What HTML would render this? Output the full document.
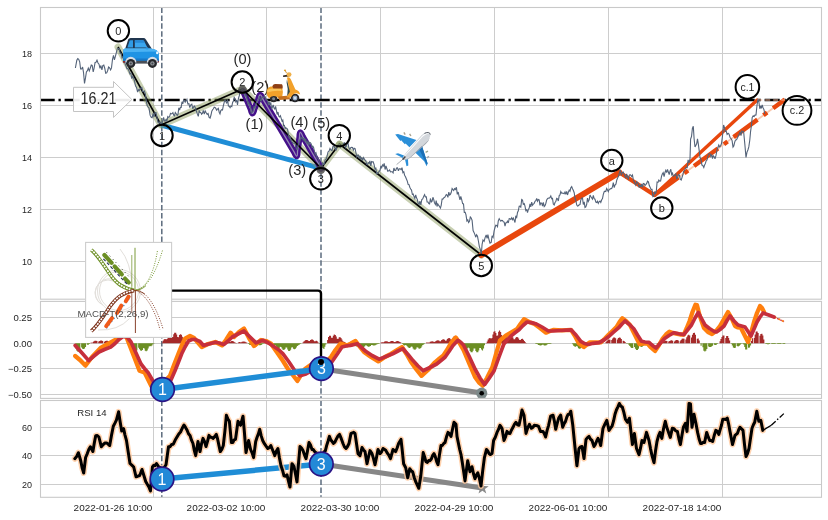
<!DOCTYPE html>
<html lang="en"><head><meta charset="utf-8"><title>Elliott wave chart</title>
<style>html,body{margin:0;padding:0;background:#fff}body{width:828px;height:520px;overflow:hidden}svg{display:block}text{font-family:"Liberation Sans","DejaVu Sans",sans-serif;fill:#262626}</style></head><body>
<svg width="828" height="520" viewBox="0 0 828 520">
<rect width="828" height="520" fill="#fff"/>
<g stroke="#cdcdcd" stroke-width="1" fill="none">
<path d="M153.5 7.5V299.2"/>
<path d="M266.5 7.5V299.2"/>
<path d="M380.5 7.5V299.2"/>
<path d="M494.5 7.5V299.2"/>
<path d="M608.5 7.5V299.2"/>
<path d="M722.5 7.5V299.2"/>
<path d="M153.5 301.4V398.4"/>
<path d="M266.5 301.4V398.4"/>
<path d="M380.5 301.4V398.4"/>
<path d="M494.5 301.4V398.4"/>
<path d="M608.5 301.4V398.4"/>
<path d="M722.5 301.4V398.4"/>
<path d="M153.5 400.5V497.3"/>
<path d="M266.5 400.5V497.3"/>
<path d="M380.5 400.5V497.3"/>
<path d="M494.5 400.5V497.3"/>
<path d="M608.5 400.5V497.3"/>
<path d="M722.5 400.5V497.3"/>
<path d="M40.5 53.5H821.5"/>
<path d="M40.5 105.5H821.5"/>
<path d="M40.5 157.5H821.5"/>
<path d="M40.5 209.5H821.5"/>
<path d="M40.5 261.5H821.5"/>
<path d="M40.5 317.5H821.5"/>
<path d="M40.5 343.5H821.5"/>
<path d="M40.5 368.5H821.5"/>
<path d="M40.5 394.5H821.5"/>
<path d="M40.5 427.5H821.5"/>
<path d="M40.5 455.5H821.5"/>
<path d="M40.5 484.5H821.5"/>
</g>
<g font-size="9" text-anchor="end">
<text x="32" y="56.7">18</text>
<text x="32" y="108.7">16</text>
<text x="32" y="160.7">14</text>
<text x="32" y="212.7">12</text>
<text x="32" y="264.7">10</text>
<text x="32" y="320.7" textLength="18.6" lengthAdjust="spacingAndGlyphs">0.25</text>
<text x="32" y="346.7" textLength="18.6" lengthAdjust="spacingAndGlyphs">0.00</text>
<text x="32" y="371.7" textLength="23.9" lengthAdjust="spacingAndGlyphs">−0.25</text>
<text x="32" y="397.7" textLength="23.9" lengthAdjust="spacingAndGlyphs">−0.50</text>
<text x="32" y="430.7">60</text>
<text x="32" y="458.7">40</text>
<text x="32" y="487.7">20</text>
<text x="152.3" y="511" textLength="78.7" lengthAdjust="spacingAndGlyphs">2022-01-26 10:00</text>
<text x="265.3" y="511" textLength="78.7" lengthAdjust="spacingAndGlyphs">2022-03-02 10:00</text>
<text x="379.3" y="511" textLength="78.7" lengthAdjust="spacingAndGlyphs">2022-03-30 10:00</text>
<text x="493.3" y="511" textLength="78.7" lengthAdjust="spacingAndGlyphs">2022-04-29 10:00</text>
<text x="607.3" y="511" textLength="78.7" lengthAdjust="spacingAndGlyphs">2022-06-01 10:00</text>
<text x="721.3" y="511" textLength="78.7" lengthAdjust="spacingAndGlyphs">2022-07-18 14:00</text>
</g>
<text x="77.2" y="415.7" font-size="9" textLength="29.4" lengthAdjust="spacingAndGlyphs">RSI 14</text>
<g stroke="#5b6b7d" stroke-width="1.5" stroke-dasharray="5.5 2.4" fill="none">
<path d="M161.8 7.5V299.2"/><path d="M321 7.5V299.2"/>
<path d="M161.8 301.4V398.4"/><path d="M321 301.4V398.4"/>
<path d="M161.8 400.5V497.3"/><path d="M321 400.5V497.3"/>
</g>
<path d="M40.5 100H821.5" stroke="#000" stroke-width="2.35" stroke-dasharray="15.1 3.77 2.36 3.77" stroke-dashoffset="0.9" fill="none"/>
<path d="M161 125L321 168.4" stroke="#1f8dd6" stroke-width="5" stroke-linecap="butt" fill="none"/>
<path d="M118.0 47.0 L161.0 125.0 L242.5 89.0 L321.0 168.4 L339.5 144.0 L481.3 255.0" fill="none" stroke="#8a9a5b" stroke-opacity="0.48" stroke-width="7" stroke-linejoin="round" stroke-linecap="round"/>
<path d="M243.3 91.5 L250.7 109.0 Q252.6 117.8 254.4 108.9 L258.3 99.3 Q259.8 90.6 262.7 98.9 L294.2 152.1 Q297.6 160.6 297.5 151.4 L299.5 137.2 Q299.4 128.0 302.7 136.5 L321.2 168.4" fill="none" stroke="#45108a" stroke-width="6.2" stroke-linejoin="round" stroke-linecap="round"/>
<path d="M243.3 91.5 L250.7 109.0 Q252.6 117.8 254.4 108.9 L258.3 99.3 Q259.8 90.6 262.7 98.9 L294.2 152.1 Q297.6 160.6 297.5 151.4 L299.5 137.2 Q299.4 128.0 302.7 136.5 L321.2 168.4" fill="none" stroke="#9488b4" stroke-width="1.3" stroke-linejoin="round" stroke-linecap="round"/>
<path d="M118.0 47.0 L161.0 125.0 L242.5 89.0 L321.0 168.4 L339.5 144.0 L481.3 255.0" fill="none" stroke="#000" stroke-width="1.6" stroke-linejoin="miter"/>
<path d="M481.3 255L619.5 172.5" stroke="#e8470d" stroke-width="6" stroke-linecap="round" fill="none"/>
<path d="M619.5 172.5L654.5 195" stroke="#e8470d" stroke-width="4.2" stroke-linecap="round" fill="none"/>
<path d="M654.5 195L757.2 100" stroke="#e8470d" stroke-width="3.4" stroke-linecap="round" fill="none"/>
<path d="M654.5 195L784.8 99.6" stroke="#f9c9b0" stroke-width="1.8" fill="none"/>
<path d="M654.5 195L784.8 99.6" stroke="#e8470d" stroke-width="4.4" stroke-dasharray="29.6 7.4 4.6 7.4" fill="none"/>
<path d="M757.2 100H784.8" stroke="#f6b89c" stroke-width="1.2" stroke-dasharray="5 3" fill="none"/>
<path d="M75.4 68.0 L76.8 60.3 L77.8 58.6 L78.7 59.3 L79.7 61.8 L80.6 69.0 L81.6 69.0 L82.6 67.0 L83.5 72.3 L84.5 83.5 L85.5 77.9 L86.4 71.9 L87.4 70.7 L88.3 68.2 L89.3 70.9 L90.3 68.0 L91.3 65.0 L92.2 65.3 L93.2 71.9 L94.1 68.2 L95.1 62.5 L96.0 62.2 L97.0 60.1 L98.0 63.0 L99.0 64.2 L100.0 68.4 L100.9 65.5 L101.9 70.0 L102.8 65.6 L103.8 65.0 L104.8 68.5 L105.7 73.3 L106.7 72.9 L107.7 70.5 L108.6 67.0 L109.6 67.8 L110.6 70.0 L111.5 67.9 L112.5 59.3 L113.5 55.3 L114.4 59.8 L115.4 56.4 L116.4 52.3 L117.3 48.7 L118.3 48.5 L119.2 48.4 L120.2 53.5 L121.1 53.4 L122.1 58.0 L123.0 57.0 L124.0 57.8 L125.0 63.6 L126.0 66.0 L127.0 68.6 L128.0 68.5 L129.0 71.0 L129.9 73.9 L130.9 73.1 L131.8 78.6 L132.7 76.4 L133.6 78.2 L134.5 81.0 L135.5 85.9 L136.6 87.8 L137.6 92.0 L138.4 89.7 L139.3 90.6 L140.2 88.7 L141.0 88.0 L141.8 87.4 L142.7 91.5 L143.6 91.6 L144.4 91.0 L145.4 94.2 L146.3 101.3 L147.3 105.7 L148.2 107.0 L149.0 108.0 L150.1 115.2 L151.2 117.3 L152.1 117.7 L153.1 113.5 L154.1 117.0 L155.0 112.5 L156.0 112.5 L156.9 117.2 L157.9 122.1 L158.9 123.0 L159.9 121.6 L161.0 125.0 L161.9 122.9 L162.8 121.0 L163.6 117.3 L164.5 121.1 L165.3 121.2 L166.1 119.4 L166.9 120.9 L167.8 116.6 L168.6 117.3 L169.6 116.7 L170.5 113.4 L171.3 113.9 L172.1 113.6 L172.9 112.7 L173.7 115.1 L174.5 115.7 L175.3 112.5 L176.2 113.8 L177.2 115.4 L178.0 114.2 L178.8 107.9 L179.6 110.0 L180.4 107.3 L181.2 107.4 L182.0 101.8 L182.8 103.8 L183.6 100.0 L184.4 100.5 L185.2 102.2 L186.0 100.9 L186.9 99.3 L187.9 104.0 L188.9 103.7 L189.8 107.6 L190.8 104.8 L191.8 104.2 L192.7 108.7 L193.7 106.7 L194.6 106.1 L195.6 108.8 L196.6 111.7 L197.5 114.4 L198.3 116.4 L199.2 110.4 L200.0 112.4 L200.8 112.5 L201.6 114.2 L202.5 113.2 L203.3 110.5 L204.3 114.0 L205.2 110.9 L206.2 112.8 L207.2 114.4 L208.1 113.6 L209.1 117.3 L210.1 118.0 L211.0 115.0 L211.8 111.1 L212.6 109.8 L213.4 108.7 L214.2 107.2 L215.0 107.5 L215.8 108.4 L216.7 110.2 L217.5 109.0 L218.3 108.3 L219.2 112.2 L220.0 113.8 L220.8 110.6 L221.7 109.7 L222.5 110.0 L223.3 105.9 L224.2 102.4 L225.0 100.0 L225.9 101.7 L226.7 102.9 L227.6 99.5 L228.4 106.1 L229.3 106.2 L230.1 107.7 L231.0 106.0 L231.8 106.6 L232.6 102.4 L233.4 101.0 L234.2 97.5 L235.0 98.8 L235.8 101.8 L236.7 100.0 L237.5 105.0 L238.4 98.6 L239.2 96.0 L240.1 92.2 L241.0 91.0 L242.5 89.0 L243.3 90.2 L244.2 90.6 L245.0 96.0 L246.0 95.3 L247.0 99.0 L248.0 104.0 L248.8 102.9 L249.6 106.3 L250.4 105.6 L251.2 112.9 L252.0 112.0 L253.0 111.4 L254.0 106.9 L255.0 108.0 L256.0 103.6 L257.0 101.6 L258.0 100.0 L258.8 98.5 L259.6 96.2 L260.4 100.6 L261.2 101.0 L262.0 97.0 L262.8 97.4 L263.6 98.1 L264.4 96.0 L265.2 96.7 L266.0 100.0 L266.8 99.9 L267.6 100.4 L268.4 105.2 L269.2 101.7 L270.0 105.0 L270.8 102.4 L271.6 109.3 L272.4 107.0 L273.2 105.0 L274.0 108.0 L274.8 109.1 L275.6 106.4 L276.4 110.6 L277.2 114.5 L278.0 112.0 L278.8 116.3 L279.6 116.9 L280.4 115.8 L281.2 118.3 L282.0 121.0 L282.8 120.1 L283.6 125.6 L284.4 125.4 L285.2 128.5 L286.0 128.0 L286.8 128.4 L287.6 129.3 L288.4 134.9 L289.2 137.7 L290.0 136.0 L290.8 139.8 L291.6 140.9 L292.4 142.4 L293.2 143.2 L294.0 143.0 L295.0 143.5 L296.0 147.8 L297.0 150.0 L298.0 146.0 L299.0 140.8 L300.0 141.0 L300.8 137.2 L301.6 138.3 L302.4 137.6 L303.2 139.9 L304.0 138.0 L304.8 141.7 L305.6 138.8 L306.4 142.8 L307.2 143.7 L308.0 141.0 L308.8 145.3 L309.6 142.5 L310.4 142.7 L311.2 143.9 L312.0 147.0 L312.8 146.1 L313.6 147.4 L314.4 151.4 L315.2 154.5 L316.0 153.0 L317.0 158.0 L318.0 158.2 L319.0 161.0 L320.0 165.7 L321.0 168.4 L321.8 168.8 L322.6 162.2 L323.4 164.5 L324.2 164.5 L325.0 160.0 L326.0 159.3 L327.0 156.4 L328.0 152.0 L329.0 151.2 L330.0 148.5 L331.0 150.0 L332.0 150.6 L333.0 146.2 L334.0 146.0 L335.0 148.4 L336.0 149.9 L337.0 147.0 L337.8 145.3 L338.7 144.3 L339.5 144.0 L340.4 147.5 L341.2 146.5 L342.1 143.3 L343.0 146.0 L343.8 143.1 L344.6 142.8 L345.4 147.6 L346.2 146.5 L347.0 144.0 L347.9 142.3 L348.8 147.6 L349.8 149.3 L350.7 147.8 L351.6 147.4 L352.5 147.5 L353.4 150.0 L354.2 148.3 L355.1 148.6 L356.0 153.0 L356.8 156.8 L357.6 155.3 L358.4 155.1 L359.3 158.5 L360.1 155.8 L360.9 159.4 L361.7 157.5 L362.5 160.7 L363.4 157.6 L364.2 158.9 L365.0 160.2 L365.8 160.9 L366.7 164.3 L367.5 164.7 L368.3 162.6 L369.1 163.3 L369.9 160.9 L370.8 165.8 L371.6 161.6 L372.4 161.9 L373.2 161.8 L374.1 164.7 L375.0 169.1 L375.8 168.2 L376.7 173.8 L377.6 173.3 L378.4 172.3 L379.2 171.4 L380.0 170.3 L380.9 165.9 L381.7 167.7 L382.5 164.9 L383.3 166.0 L384.2 163.4 L385.1 169.5 L386.0 166.0 L386.9 168.8 L387.8 171.2 L388.7 170.8 L389.6 170.0 L390.5 171.9 L391.4 171.7 L392.2 171.7 L393.1 172.9 L393.9 168.0 L394.8 170.4 L395.7 170.5 L396.6 168.0 L397.5 167.8 L398.4 170.9 L399.3 168.7 L400.2 168.7 L401.1 169.7 L402.0 167.6 L402.9 172.7 L403.8 171.8 L404.6 175.2 L405.5 176.8 L406.4 179.0 L407.3 181.1 L408.1 184.3 L409.0 184.7 L409.8 187.2 L410.7 189.0 L411.5 190.1 L412.4 194.5 L413.2 194.1 L414.0 196.6 L414.8 198.3 L415.7 194.9 L416.5 197.8 L417.4 199.6 L418.2 203.7 L419.1 204.4 L419.9 201.1 L420.8 205.0 L421.8 199.6 L422.7 198.9 L423.7 196.4 L424.6 194.6 L425.4 196.9 L426.3 196.9 L427.1 202.0 L428.0 202.0 L428.8 203.5 L429.6 203.9 L430.4 198.5 L431.3 201.9 L432.1 201.2 L432.9 197.3 L433.7 199.3 L434.5 202.9 L435.4 204.5 L436.2 200.5 L437.0 206.5 L437.8 203.8 L438.7 205.4 L439.5 206.5 L440.4 208.1 L441.2 205.3 L442.1 199.0 L442.9 199.1 L443.8 197.8 L444.6 197.5 L445.5 195.9 L446.3 194.5 L447.1 195.0 L447.9 197.3 L448.8 192.1 L449.6 195.0 L450.4 194.3 L451.2 192.5 L452.1 188.5 L452.9 189.6 L453.7 190.5 L454.5 188.6 L455.4 189.5 L456.4 187.3 L457.3 194.4 L458.2 192.0 L459.1 196.3 L460.0 199.8 L460.8 196.3 L461.7 199.7 L462.6 203.6 L463.5 203.9 L464.3 212.4 L465.2 212.4 L466.0 214.9 L466.9 220.9 L467.8 219.8 L468.6 222.5 L469.5 221.3 L470.3 216.9 L471.2 218.0 L472.1 220.4 L473.1 230.5 L474.0 232.4 L474.9 234.6 L475.8 237.2 L476.6 234.8 L477.5 236.3 L478.4 241.0 L479.4 246.8 L480.3 249.5 L481.3 254.5 L482.1 244.3 L483.0 240.0 L484.1 241.3 L485.1 237.6 L486.2 235.0 L487.1 238.3 L487.9 234.7 L488.8 238.8 L490.0 243.1 L491.2 242.5 L492.1 235.8 L493.1 237.5 L494.1 230.9 L495.0 227.5 L495.8 225.2 L496.7 225.4 L497.5 226.7 L498.3 220.9 L499.2 218.7 L500.0 220.0 L500.8 221.2 L501.7 220.3 L502.5 220.4 L503.3 221.8 L504.2 222.1 L505.0 226.2 L505.8 222.9 L506.7 222.5 L507.5 221.2 L508.3 223.0 L509.2 218.6 L510.0 218.8 L510.8 219.4 L511.7 217.8 L512.5 219.6 L513.3 218.0 L514.2 220.2 L515.0 222.5 L515.8 215.9 L516.7 217.4 L517.5 212.5 L518.3 210.8 L519.2 206.2 L520.0 206.1 L520.8 207.1 L521.7 199.4 L522.5 200.0 L523.3 204.3 L524.2 203.7 L525.0 206.2 L525.8 210.6 L526.7 209.7 L527.5 212.5 L528.3 209.6 L529.2 208.0 L530.0 203.8 L530.8 206.8 L531.7 202.2 L532.5 205.2 L533.3 204.1 L534.2 203.3 L535.0 201.4 L535.8 200.7 L536.7 198.5 L537.5 201.2 L538.3 199.5 L539.2 199.9 L540.0 205.3 L540.8 202.9 L541.7 203.1 L542.5 206.2 L543.3 202.4 L544.2 206.6 L545.0 205.8 L545.8 203.5 L546.7 199.9 L547.5 198.6 L548.3 198.0 L549.2 198.2 L550.0 197.5 L550.8 196.0 L551.7 198.8 L552.5 198.4 L553.3 204.0 L554.2 204.9 L555.0 202.5 L555.8 201.6 L556.7 198.3 L557.5 198.8 L558.3 201.0 L559.2 195.6 L560.0 194.9 L560.8 191.5 L561.7 193.2 L562.5 193.0 L563.3 193.2 L564.2 193.7 L565.0 192.0 L565.8 194.4 L566.7 191.3 L567.5 195.0 L568.3 192.4 L569.2 190.1 L570.0 191.2 L570.8 187.8 L571.7 186.6 L572.5 188.8 L573.3 190.3 L574.2 192.7 L575.0 198.0 L575.8 200.5 L576.7 204.8 L577.5 206.0 L578.3 205.7 L579.2 204.8 L580.0 204.6 L580.8 199.9 L581.7 198.2 L582.5 198.0 L583.3 204.5 L584.2 201.9 L585.0 207.5 L585.8 206.9 L586.7 204.3 L587.5 198.1 L588.3 201.4 L589.2 199.7 L590.0 195.0 L590.8 196.6 L591.7 198.0 L592.5 199.2 L593.3 195.3 L594.2 198.6 L595.0 199.2 L595.8 202.1 L596.7 202.6 L597.5 201.2 L598.3 203.4 L599.2 201.6 L600.0 201.0 L600.8 202.4 L601.7 199.8 L602.5 198.6 L603.3 194.3 L604.2 191.7 L605.0 191.2 L605.8 191.5 L606.7 188.5 L607.5 190.0 L608.3 191.7 L609.2 189.3 L610.0 189.2 L610.8 188.6 L611.7 188.5 L612.5 186.6 L613.3 182.7 L614.2 187.6 L615.0 185.0 L615.9 184.2 L616.8 180.0 L617.7 177.7 L618.6 176.1 L619.5 172.5 L620.4 170.2 L621.3 175.3 L622.2 172.7 L623.2 172.1 L624.1 174.0 L625.0 176.2 L625.8 177.6 L626.7 173.9 L627.5 177.4 L628.3 178.9 L629.2 175.5 L630.0 174.6 L630.8 175.1 L631.7 176.4 L632.5 175.0 L633.3 179.7 L634.2 181.7 L635.0 183.8 L635.8 185.2 L636.7 181.7 L637.5 182.6 L638.3 183.8 L639.2 187.5 L640.0 184.9 L640.8 187.1 L641.7 183.8 L642.5 187.5 L643.3 183.5 L644.2 183.8 L645.0 185.5 L645.8 184.6 L646.7 183.4 L647.5 181.2 L648.4 181.9 L649.3 185.6 L650.2 187.4 L651.1 189.5 L652.0 189.3 L652.9 196.7 L653.8 196.2 L654.6 191.5 L655.5 194.1 L656.3 191.1 L657.1 182.1 L658.0 182.4 L658.8 180.0 L659.7 181.1 L660.6 181.0 L661.5 176.4 L662.3 174.1 L663.2 172.7 L664.1 176.6 L665.0 172.5 L665.8 170.3 L666.7 172.6 L667.5 169.4 L668.3 171.8 L669.2 174.5 L670.0 171.2 L670.8 169.3 L671.7 174.6 L672.5 173.2 L673.3 176.4 L674.2 175.7 L675.0 175.0 L675.9 173.9 L676.8 179.1 L677.7 177.0 L678.5 174.6 L679.4 175.2 L680.3 179.2 L681.2 180.0 L682.0 177.6 L682.9 174.5 L683.7 171.3 L684.5 170.6 L685.4 168.3 L686.2 167.5 L687.2 167.7 L688.1 159.9 L689.0 162.8 L690.0 159.0 L690.6 139.0 L691.5 136.5 L692.4 128.5 L693.3 126.2 L694.1 138.8 L695.0 147.0 L695.8 145.4 L696.7 143.6 L697.5 138.8 L698.3 143.9 L699.2 150.6 L700.0 157.5 L701.0 159.4 L701.9 165.1 L702.8 165.5 L703.8 167.5 L704.6 164.9 L705.4 163.4 L706.2 160.7 L707.0 160.0 L708.0 155.6 L709.0 153.8 L710.0 153.8 L710.8 156.4 L711.7 154.4 L712.5 158.6 L713.3 155.8 L714.2 156.7 L715.0 158.8 L716.0 155.4 L716.9 150.3 L717.8 147.8 L718.8 145.0 L719.7 146.9 L720.6 146.0 L721.5 143.5 L722.5 135.9 L723.6 125.0 L724.5 127.7 L725.3 131.3 L726.2 131.2 L727.1 134.4 L728.1 133.3 L729.0 134.0 L730.1 137.5 L731.2 138.8 L732.1 140.6 L733.0 147.0 L733.8 145.9 L734.7 142.1 L735.5 140.0 L736.5 139.8 L737.5 137.8 L738.5 135.5 L739.4 133.7 L740.2 131.8 L741.0 135.7 L741.9 130.9 L742.8 132.0 L743.6 131.5 L744.8 143.7 L746.0 157.5 L747.0 152.1 L747.9 150.0 L748.8 146.9 L749.8 140.0 L750.6 131.3 L751.4 125.8 L752.2 117.5 L753.2 115.8 L754.1 116.5 L755.0 115.1 L756.0 115.0 L757.0 105.2 L758.0 98.8 L758.9 102.0 L759.8 108.8 L760.6 106.0 L761.4 108.4 L762.2 105.0 L763.1 107.9 L763.9 109.4 L764.8 113.8" fill="none" stroke="#546379" stroke-width="1.1" stroke-linejoin="miter" stroke-miterlimit="3"/>
<circle cx="242.5" cy="89.8" r="4.4" fill="#4d4d4d" fill-opacity="0.85"/>
<circle cx="320.8" cy="169.6" r="4.4" fill="#4d4d4d" fill-opacity="0.85"/>
<circle cx="339.5" cy="144.5" r="3.6" fill="#8a9a5b" fill-opacity="0.55"/>
<g font-size="14.6" text-anchor="middle" fill="#222">
<text x="242.5" y="64.0">(0)</text>
<text x="254.5" y="129.0">(1)</text>
<text x="260.2" y="92.0">(2)</text>
<text x="297.2" y="174.5">(3)</text>
<text x="299.4" y="126.9">(4)</text>
<text x="321.2" y="127.9">(5)</text>
</g>
<circle cx="118.4" cy="30.8" r="10.7" fill="none" stroke="#000" stroke-width="2"/>
<text x="118.4" y="34.8" font-size="11" text-anchor="middle" fill="#222">0</text>
<circle cx="162.0" cy="135.5" r="10.7" fill="none" stroke="#000" stroke-width="2"/>
<text x="162.0" y="139.5" font-size="11" text-anchor="middle" fill="#222">1</text>
<circle cx="242.3" cy="82.0" r="10.7" fill="none" stroke="#000" stroke-width="2"/>
<text x="242.3" y="86.0" font-size="11" text-anchor="middle" fill="#222">2</text>
<circle cx="320.8" cy="178.8" r="10.7" fill="none" stroke="#000" stroke-width="2"/>
<text x="320.8" y="182.8" font-size="11" text-anchor="middle" fill="#222">3</text>
<circle cx="339.3" cy="135.6" r="10.7" fill="none" stroke="#000" stroke-width="2"/>
<text x="339.3" y="139.6" font-size="11" text-anchor="middle" fill="#222">4</text>
<circle cx="481.3" cy="265.5" r="10.7" fill="none" stroke="#000" stroke-width="2"/>
<text x="481.3" y="269.5" font-size="11" text-anchor="middle" fill="#222">5</text>
<circle cx="611.8" cy="160.5" r="10.7" fill="none" stroke="#000" stroke-width="2"/>
<text x="611.8" y="164.5" font-size="11" text-anchor="middle" fill="#222">a</text>
<circle cx="661.8" cy="208.0" r="10.7" fill="none" stroke="#000" stroke-width="2"/>
<text x="661.8" y="212.0" font-size="11" text-anchor="middle" fill="#222">b</text>
<circle cx="747.4" cy="86.9" r="11.8" fill="none" stroke="#000" stroke-width="2"/>
<text x="747.4" y="90.7" font-size="10.5" text-anchor="middle" fill="#222">c.1</text>
<circle cx="797.0" cy="110.4" r="14.4" fill="none" stroke="#000" stroke-width="2"/>
<text x="797.0" y="114.3" font-size="10.8" text-anchor="middle" fill="#222">c.2</text>
<path d="M73.5 87.3H113.5V81.5L131.8 99.5L113.5 117.4V111.5H73.5Z" fill="#fff" fill-opacity="0.92" stroke="#c4c4c4" stroke-width="1"/>
<text x="80.5" y="103.9" font-size="15.6" textLength="35.9" lengthAdjust="spacingAndGlyphs" fill="#2a2a2a">16.21</text>
<path d="M91.2 343.3V342.5M93.1 343.3V341.9M94.0 343.3V341.2M95.0 343.3V340.8M95.9 343.3V340.7M96.9 343.3V341.1M98.8 343.3V341.6M99.7 343.3V340.9M100.7 343.3V340.4M101.6 343.3V340.5M102.6 343.3V341.0M104.5 343.3V341.7M105.4 343.3V341.1M106.4 343.3V340.7M107.3 343.3V340.8M108.3 343.3V341.2M110.2 343.3V341.9M111.1 343.3V341.6M112.1 343.3V341.6M113.0 343.3V342.0M114.0 343.3V342.4M162.4 343.3V342.5M163.3 343.3V340.5M164.3 343.3V339.3M165.2 343.3V339.0M166.2 343.3V339.6M167.1 343.3V338.9M168.1 343.3V336.0M169.0 343.3V334.2M170.0 343.3V333.8M170.9 343.3V334.9M171.9 343.3V337.1M172.8 343.3V337.0M173.8 343.3V334.3M174.7 343.3V332.7M175.7 343.3V332.7M176.6 343.3V334.4M177.6 343.3V337.1M178.5 343.3V337.2M179.5 343.3V335.1M180.4 343.3V334.2M181.4 343.3V334.8M182.3 343.3V336.7M183.3 343.3V339.3M184.2 343.3V340.4M185.2 343.3V340.8M186.1 343.3V342.0M187.1 343.3V342.3M188.0 343.3V342.8M227.0 343.3V342.5M227.9 343.3V342.0M228.9 343.3V342.0M229.8 343.3V341.9M230.8 343.3V341.4M231.7 343.3V341.0M232.7 343.3V341.1M233.6 343.3V341.5M234.6 343.3V342.3M235.5 343.3V342.7M236.5 343.3V343.0M238.4 343.3V342.4M239.3 343.3V342.1M240.3 343.3V342.2M241.2 343.3V342.2M242.2 343.3V341.7M243.1 343.3V341.4M244.1 343.3V341.5M245.0 343.3V341.7M246.0 343.3V342.2M246.9 343.3V342.7M303.0 343.3V342.5M303.9 343.3V341.6M304.9 343.3V340.7M305.8 343.3V340.1M306.8 343.3V339.9M307.7 343.3V340.3M308.7 343.3V341.1M309.6 343.3V341.0M310.6 343.3V340.0M311.5 343.3V339.5M312.5 343.3V339.6M313.4 343.3V340.3M314.4 343.3V341.2M315.3 343.3V341.2M316.3 343.3V340.7M317.2 343.3V341.3M318.2 343.3V342.4M327.7 343.3V340.1M328.6 343.3V336.9M329.6 343.3V335.7M330.5 343.3V335.8M331.5 343.3V337.8M332.4 343.3V337.8M333.4 343.3V335.7M334.3 343.3V334.6M335.3 343.3V334.9M336.2 343.3V336.6M337.2 343.3V338.8M338.1 343.3V339.0M339.1 343.3V337.5M340.0 343.3V336.9M341.0 343.3V337.9M341.9 343.3V339.5M342.9 343.3V341.3M343.8 343.3V341.8M344.8 343.3V342.0M345.7 343.3V343.0M380.9 343.3V342.7M381.8 343.3V342.3M382.8 343.3V342.3M383.7 343.3V342.2M384.7 343.3V341.6M385.6 343.3V341.3M386.6 343.3V341.2M387.5 343.3V341.5M388.5 343.3V342.0M389.4 343.3V342.0M390.4 343.3V341.4M391.3 343.3V341.0M392.3 343.3V340.9M393.2 343.3V341.3M394.2 343.3V342.0M395.1 343.3V341.9M396.1 343.3V341.4M397.0 343.3V341.1M398.0 343.3V341.1M398.9 343.3V341.5M399.9 343.3V342.0M400.8 343.3V342.6M426.5 343.3V342.6M427.4 343.3V342.4M428.4 343.3V342.5M429.3 343.3V342.4M430.3 343.3V341.8M431.2 343.3V341.4M432.2 343.3V341.2M433.1 343.3V341.4M434.1 343.3V341.9M435.0 343.3V341.8M436.0 343.3V341.0M436.9 343.3V340.4M437.9 343.3V340.3M438.8 343.3V340.6M439.8 343.3V341.3M440.7 343.3V341.2M441.7 343.3V340.1M442.6 343.3V339.4M443.6 343.3V339.2M444.5 343.3V339.7M445.5 343.3V340.7M446.4 343.3V340.5M447.4 343.3V339.1M448.3 343.3V338.2M449.3 343.3V338.0M450.2 343.3V338.7M451.2 343.3V339.9M452.1 343.3V339.6M453.1 343.3V337.8M454.0 343.3V336.5M455.0 343.3V336.1M455.9 343.3V337.0M456.9 343.3V339.5M457.8 343.3V340.0M458.8 343.3V339.4M459.7 343.3V339.6M460.7 343.3V341.1M461.6 343.3V342.8M486.3 343.3V342.9M487.3 343.3V341.4M488.2 343.3V339.6M489.2 343.3V338.3M490.1 343.3V338.0M491.1 343.3V338.8M492.0 343.3V338.0M493.0 343.3V334.6M493.9 343.3V331.7M494.9 343.3V331.3M495.8 343.3V332.9M496.8 343.3V335.8M497.7 343.3V335.5M498.7 343.3V331.8M499.6 343.3V330.6M500.6 343.3V332.1M501.5 343.3V335.1M502.5 343.3V338.5M503.4 343.3V339.0M504.4 343.3V337.9M505.3 343.3V337.2M506.3 343.3V336.9M507.2 343.3V337.7M508.2 343.3V339.2M509.1 343.3V339.0M510.1 343.3V337.0M511.0 343.3V336.0M512.0 343.3V336.1M512.9 343.3V337.4M513.9 343.3V339.3M514.8 343.3V339.3M515.8 343.3V337.8M516.7 343.3V337.0M517.7 343.3V337.3M518.6 343.3V338.4M519.6 343.3V340.1M520.5 343.3V340.1M521.5 343.3V339.0M522.4 343.3V338.8M523.4 343.3V339.8M524.3 343.3V341.1M525.3 343.3V342.3M526.2 343.3V342.9M606.1 343.3V341.9M607.0 343.3V340.9M608.0 343.3V339.9M608.9 343.3V339.5M609.9 343.3V339.7M611.8 343.3V340.1M612.7 343.3V338.6M613.7 343.3V337.6M614.6 343.3V337.4M615.6 343.3V338.2M617.5 343.3V339.5M618.4 343.3V337.9M619.4 343.3V337.4M620.3 343.3V337.8M621.3 343.3V339.0M623.2 343.3V340.8M624.1 343.3V340.9M625.1 343.3V341.9M647.9 343.3V342.9M648.8 343.3V342.7M649.8 343.3V342.7M651.7 343.3V343.0M652.6 343.3V343.0M661.2 343.3V342.2M663.1 343.3V341.9M664.0 343.3V341.2M665.0 343.3V340.7M665.9 343.3V340.7M666.9 343.3V341.1M668.8 343.3V341.6M669.7 343.3V340.9M670.7 343.3V340.4M671.6 343.3V340.3M672.6 343.3V340.8M674.5 343.3V341.5M675.4 343.3V340.6M676.4 343.3V340.1M677.3 343.3V340.1M678.3 343.3V340.5M680.2 343.3V341.2M681.1 343.3V339.9M682.1 343.3V338.8M683.0 343.3V338.4M684.0 343.3V338.7M685.9 343.3V339.5M686.8 343.3V337.3M687.8 343.3V335.5M688.7 343.3V334.8M689.7 343.3V335.5M691.6 343.3V337.4M692.5 343.3V334.8M693.5 343.3V333.0M694.4 343.3V332.8M695.4 343.3V334.8M697.3 343.3V338.8M698.2 343.3V338.4M699.2 343.3V340.5M720.1 343.3V341.2M721.0 343.3V339.1M722.0 343.3V336.9M722.9 343.3V335.4M723.9 343.3V335.5M725.8 343.3V338.0M726.7 343.3V336.0M727.7 343.3V336.1M728.6 343.3V338.1M729.6 343.3V340.5M751.4 343.3V341.1M752.4 343.3V338.3M754.3 343.3V338.0M755.2 343.3V334.5M756.2 343.3V331.6M757.1 343.3V331.4M758.1 343.3V333.1M760.0 343.3V335.8M760.9 343.3V333.9M761.9 343.3V333.8M762.8 343.3V335.5M763.8 343.3V339.4" stroke="#a52a2a" stroke-width="1.15" fill="none"/>
<path d="M76.0 343.3V348.4M76.9 343.3V350.7M77.9 343.3V351.8M78.8 343.3V351.5M79.8 343.3V350.0M81.7 343.3V347.4M82.6 343.3V348.7M83.6 343.3V349.0M84.5 343.3V348.4M85.5 343.3V347.0M87.4 343.3V344.8M88.3 343.3V344.7M89.3 343.3V344.0M133.0 343.3V345.6M133.9 343.3V348.1M134.9 343.3V350.5M135.8 343.3V351.9M136.8 343.3V350.5M138.7 343.3V347.8M139.6 343.3V349.3M140.6 343.3V350.4M141.5 343.3V350.8M142.4 343.3V349.9M143.4 343.3V348.1M144.3 343.3V348.5M145.3 343.3V350.7M146.2 343.3V351.2M147.2 343.3V350.4M148.1 343.3V348.6M149.1 343.3V346.6M150.0 343.3V346.1M151.0 343.3V346.2M151.9 343.3V345.5M152.9 343.3V344.2M153.8 343.3V343.8M248.8 343.3V344.0M249.8 343.3V344.9M250.7 343.3V345.0M251.7 343.3V344.7M252.6 343.3V344.9M253.6 343.3V345.8M254.5 343.3V346.6M255.5 343.3V346.9M256.4 343.3V346.3M257.4 343.3V345.2M258.3 343.3V345.0M259.3 343.3V345.3M260.2 343.3V345.3M261.2 343.3V344.9M262.1 343.3V344.3M263.1 343.3V343.8M264.0 343.3V343.7M270.7 343.3V343.8M271.6 343.3V344.4M272.6 343.3V344.9M273.5 343.3V345.1M274.5 343.3V344.9M275.4 343.3V345.2M276.4 343.3V346.5M277.3 343.3V347.6M278.3 343.3V348.2M279.2 343.3V347.9M280.2 343.3V346.7M281.1 343.3V346.9M282.1 343.3V348.6M283.0 343.3V349.8M284.0 343.3V350.0M284.9 343.3V349.1M285.9 343.3V347.4M286.8 343.3V347.6M287.8 343.3V349.6M288.7 343.3V351.0M289.7 343.3V351.1M290.6 343.3V349.7M291.6 343.3V347.5M292.5 343.3V347.3M293.5 343.3V348.7M294.4 343.3V349.3M295.4 343.3V348.8M296.3 343.3V347.6M297.3 343.3V345.9M298.2 343.3V345.2M299.2 343.3V344.8M300.1 343.3V344.0M301.1 343.3V343.6M320.1 343.3V344.1M321.0 343.3V344.8M322.0 343.3V346.5M322.9 343.3V348.1M323.9 343.3V349.0M324.8 343.3V346.8M325.8 343.3V344.6M346.7 343.3V343.8M347.6 343.3V344.3M348.6 343.3V344.4M349.5 343.3V344.8M350.5 343.3V345.7M351.4 343.3V346.2M352.4 343.3V346.3M353.3 343.3V345.9M354.3 343.3V345.2M355.2 343.3V345.3M356.2 343.3V346.2M357.1 343.3V346.8M358.1 343.3V346.9M359.0 343.3V346.4M360.0 343.3V345.5M360.9 343.3V345.5M361.9 343.3V346.4M362.8 343.3V347.0M363.8 343.3V346.9M364.7 343.3V346.3M365.7 343.3V345.3M366.6 343.3V345.4M367.6 343.3V346.2M368.5 343.3V346.7M369.5 343.3V346.6M370.4 343.3V346.0M371.4 343.3V345.0M372.3 343.3V344.9M373.3 343.3V345.4M374.2 343.3V345.5M375.2 343.3V345.3M376.1 343.3V344.7M377.1 343.3V344.2M378.0 343.3V344.0M379.0 343.3V343.8M402.7 343.3V344.0M403.7 343.3V344.9M404.6 343.3V345.4M405.6 343.3V345.1M406.5 343.3V345.4M407.5 343.3V346.6M408.4 343.3V347.6M409.4 343.3V348.0M410.3 343.3V347.6M411.3 343.3V346.5M412.2 343.3V346.8M413.2 343.3V348.4M414.1 343.3V349.5M415.1 343.3V349.7M416.0 343.3V348.8M417.0 343.3V347.2M417.9 343.3V347.4M418.9 343.3V348.5M419.8 343.3V348.7M420.8 343.3V347.9M421.7 343.3V346.5M422.7 343.3V345.1M423.6 343.3V344.4M424.6 343.3V343.8M462.6 343.3V343.8M463.5 343.3V344.6M464.5 343.3V346.1M465.4 343.3V347.6M466.4 343.3V348.5M467.3 343.3V348.5M468.3 343.3V347.5M469.2 343.3V348.2M470.2 343.3V350.9M471.1 343.3V352.3M472.1 343.3V352.2M473.0 343.3V350.8M474.0 343.3V348.5M474.9 343.3V348.6M475.9 343.3V350.9M476.8 343.3V352.3M477.8 343.3V352.2M478.7 343.3V350.5M479.7 343.3V348.1M480.6 343.3V348.0M481.6 343.3V349.6M482.5 343.3V350.4M483.5 343.3V348.6M484.4 343.3V345.3M535.7 343.3V343.7M536.7 343.3V343.9M537.6 343.3V344.2M538.6 343.3V344.9M539.5 343.3V345.3M540.5 343.3V345.4M541.4 343.3V345.2M542.4 343.3V344.7M543.3 343.3V344.8M544.3 343.3V345.4M545.2 343.3V345.5M546.2 343.3V345.2M547.1 343.3V344.6M548.1 343.3V344.1M549.0 343.3V343.9M550.0 343.3V343.9M550.9 343.3V343.7M572.8 343.3V344.2M573.7 343.3V345.7M574.7 343.3V346.6M575.6 343.3V346.7M576.6 343.3V346.1M577.5 343.3V346.6M578.5 343.3V348.2M579.4 343.3V348.8M580.4 343.3V348.5M581.3 343.3V347.5M582.3 343.3V345.9M583.2 343.3V345.3M584.2 343.3V345.2M585.1 343.3V344.4M586.1 343.3V343.9M627.0 343.3V344.0M628.9 343.3V344.8M629.8 343.3V346.0M630.8 343.3V347.3M631.7 343.3V348.1M632.7 343.3V348.0M634.6 343.3V347.0M635.5 343.3V348.7M636.5 343.3V349.9M637.4 343.3V350.1M638.4 343.3V348.8M640.3 343.3V346.3M641.2 343.3V346.9M642.2 343.3V346.8M643.1 343.3V346.0M644.1 343.3V344.8M657.4 343.3V343.9M658.3 343.3V344.2M659.3 343.3V343.8M701.1 343.3V345.7M703.0 343.3V347.3M703.9 343.3V350.7M704.9 343.3V351.6M705.8 343.3V350.8M706.8 343.3V349.0M708.7 343.3V346.4M709.6 343.3V346.9M710.6 343.3V346.9M711.5 343.3V346.6M712.5 343.3V345.8M714.4 343.3V344.7M715.3 343.3V345.0M716.3 343.3V344.8M717.2 343.3V344.0M731.5 343.3V343.8M732.4 343.3V345.6M733.4 343.3V347.4M734.3 343.3V348.0M735.3 343.3V347.8M737.2 343.3V346.1M738.1 343.3V346.4M739.1 343.3V346.0M740.0 343.3V345.0M741.0 343.3V344.1M742.9 343.3V343.7M743.8 343.3V344.6M744.8 343.3V347.0M745.7 343.3V349.4M746.7 343.3V349.6M748.6 343.3V347.8M749.5 343.3V347.6M750.5 343.3V345.4M765.7 343.3V343.7M766.6 343.3V344.1M767.6 343.3V344.2M768.5 343.3V344.2M769.5 343.3V344.0M771.4 343.3V343.8M772.3 343.3V344.0M773.3 343.3V344.1M774.2 343.3V344.1M775.2 343.3V344.0M777.1 343.3V343.8M778.0 343.3V344.0M779.0 343.3V344.1M779.9 343.3V344.1M780.9 343.3V343.9M782.8 343.3V343.7M783.7 343.3V343.9M784.7 343.3V344.0" stroke="#6b8e23" stroke-width="1.15" fill="none"/>
<path d="M75.2 356.0 L80.0 360.0 L85.4 365.6 L92.0 357.0 L100.6 348.0 L108.0 344.0 L117.5 338.6 L122.0 335.0 L126.0 336.0 L131.0 348.7 L139.5 370.7 L144.5 372.4 L151.3 386.0 L156.0 391.5 L158.5 392.5 L162.0 388.0 L166.0 380.0 L170.0 375.8 L174.0 365.0 L178.4 353.8 L181.5 346.0 L185.0 338.6 L190.0 336.0 L194.0 338.0 L201.8 347.0 L208.0 344.0 L215.4 342.0 L222.0 345.4 L226.0 340.0 L230.6 332.7 L234.0 337.0 L239.0 332.0 L244.0 328.5 L249.0 338.0 L254.0 346.0 L257.5 343.0 L261.0 340.0 L266.0 341.0 L271.0 343.7 L278.0 353.8 L283.0 361.0 L288.0 369.0 L292.0 374.0 L297.4 381.0 L301.0 375.0 L305.0 369.0 L312.0 364.0 L318.0 366.0 L322.0 368.0 L326.0 362.0 L331.0 357.0 L335.5 350.0 L340.3 343.7 L347.0 345.4 L351.0 343.5 L355.5 341.0 L360.0 347.0 L364.0 352.0 L371.0 357.0 L378.3 361.4 L385.0 357.0 L391.0 353.8 L397.0 350.0 L402.0 347.0 L406.5 354.0 L411.3 362.3 L416.0 369.0 L421.5 375.8 L428.0 370.0 L435.0 362.3 L439.0 359.0 L443.4 355.5 L447.0 350.0 L451.0 343.0 L455.8 337.5 L459.5 343.0 L463.5 350.0 L469.0 363.0 L475.0 377.0 L479.0 382.5 L482.7 385.6 L487.0 378.0 L492.3 367.3 L496.0 354.0 L500.0 340.4 L505.8 335.6 L511.0 332.5 L517.3 328.8 L520.5 324.0 L524.0 319.2 L529.0 322.0 L534.6 324.0 L540.0 328.0 L546.0 332.7 L550.0 331.0 L553.8 329.8 L562.0 330.3 L571.0 329.8 L575.0 336.0 L578.8 343.3 L583.8 347.0 L589.6 342.3 L595.0 342.5 L601.0 342.3 L605.0 338.5 L608.8 334.6 L612.5 331.0 L616.5 327.0 L619.5 322.0 L622.3 318.3 L626.0 321.0 L630.0 325.0 L635.0 335.0 L639.6 344.2 L643.5 343.5 L647.3 343.3 L651.0 347.5 L655.0 351.0 L659.0 345.0 L662.7 338.5 L666.0 334.5 L669.4 331.7 L673.0 333.0 L676.0 333.7 L680.0 334.5 L683.8 334.6 L686.8 328.0 L689.6 321.0 L692.5 312.0 L695.4 304.8 L697.0 305.2 L699.5 315.0 L704.0 328.0 L708.0 332.0 L712.0 334.0 L716.0 331.0 L720.0 326.0 L724.0 319.0 L728.0 312.0 L731.5 318.0 L735.0 326.0 L738.0 327.5 L741.0 328.0 L744.5 335.0 L748.0 342.0 L751.0 333.0 L754.0 322.0 L757.0 313.0 L760.0 306.0 L762.0 308.0 L764.0 312.0" fill="none" stroke="#ff7f0e" stroke-width="4.3" stroke-linejoin="round" stroke-linecap="round"/>
<path d="M764 312L785 322" stroke="#ff7f0e" stroke-width="1.8" stroke-dasharray="1.8 2.2" fill="none"/>
<path d="M75.2 345.4 L82.0 353.0 L88.7 360.6 L94.0 356.0 L99.0 352.0 L104.5 349.5 L110.7 347.0 L115.0 343.5 L119.0 339.4 L123.0 336.5 L127.0 337.0 L131.0 342.0 L136.0 353.0 L141.0 364.0 L144.5 368.5 L148.0 372.4 L151.5 378.5 L154.7 384.0 L158.5 390.0 L162.0 393.0 L166.0 389.0 L170.5 381.0 L175.0 370.7 L178.5 362.0 L181.7 353.8 L185.0 347.0 L188.5 341.0 L192.0 339.5 L195.0 339.4 L200.0 341.5 L203.5 345.4 L209.0 344.0 L215.4 342.3 L219.5 343.0 L223.8 344.5 L228.0 341.0 L232.3 337.0 L238.0 334.0 L244.0 331.0 L250.0 337.0 L256.0 342.8 L259.5 341.5 L262.7 340.3 L268.5 343.0 L274.5 347.0 L279.0 350.0 L283.0 353.8 L289.0 362.0 L294.8 370.7 L300.0 375.8 L306.0 374.0 L313.0 370.0 L319.0 369.5 L325.0 369.0 L331.8 362.0 L337.0 354.5 L342.0 347.0 L346.0 346.0 L350.4 345.4 L357.2 343.7 L361.5 347.5 L365.7 351.3 L372.0 355.5 L379.2 359.2 L386.0 356.5 L392.7 353.8 L398.0 351.0 L402.9 348.7 L408.0 354.5 L413.0 360.6 L418.0 366.0 L423.0 370.7 L430.0 367.5 L436.7 364.0 L441.0 360.5 L445.0 357.2 L449.0 351.5 L453.0 345.5 L457.7 340.4 L460.5 342.0 L463.5 345.0 L469.0 356.0 L475.0 369.0 L480.0 378.0 L484.6 384.6 L489.0 378.5 L494.0 371.0 L499.0 357.0 L503.8 344.0 L507.5 339.5 L511.5 335.6 L515.0 332.8 L519.0 329.8 L523.0 325.5 L527.0 322.0 L531.5 322.6 L536.5 324.0 L542.0 327.0 L548.0 330.8 L553.0 331.0 L560.0 330.5 L571.0 329.8 L576.0 335.0 L580.8 341.3 L584.5 343.5 L588.5 344.5 L593.0 343.3 L599.0 342.7 L604.0 340.0 L608.8 336.5 L613.5 332.2 L618.5 327.9 L622.0 324.0 L625.0 321.0 L629.5 324.5 L633.8 328.8 L637.5 335.0 L641.5 341.3 L645.0 342.0 L649.0 342.3 L652.5 345.5 L656.0 348.0 L660.5 343.0 L664.6 338.5 L669.0 335.5 L674.0 332.7 L679.0 333.8 L683.8 334.6 L687.5 330.0 L691.5 325.0 L695.0 318.0 L698.3 312.5 L701.5 318.5 L705.0 325.0 L709.5 328.5 L714.6 331.7 L716.5 332.0 L720.0 329.5 L724.0 326.0 L727.0 320.5 L730.0 316.0 L734.0 321.0 L738.0 325.0 L741.5 326.0 L745.0 327.0 L748.0 331.5 L751.0 336.0 L754.0 329.0 L757.0 322.0 L760.0 317.0 L763.0 313.0 L768.0 314.8 L774.0 317.0" fill="none" stroke="#c62f3c" stroke-width="3.7" stroke-linejoin="round" stroke-linecap="round"/>
<path d="M774 317L784 321.6" stroke="#c8283a" stroke-width="1.4" stroke-dasharray="1.5 2" fill="none"/>
<path d="M321.3 368.8L481.7 393" stroke="#878787" stroke-width="5" fill="none"/>
<path d="M162.5 389.5L321.3 368.8" stroke="#1f8dd6" stroke-width="5.5" fill="none"/>
<circle cx="481.7" cy="393.2" r="5.6" fill="#7d8a8a"/><circle cx="481.7" cy="393.2" r="2.3" fill="#000"/>
<path d="M321.3 464L482.4 488" stroke="#878787" stroke-width="5" fill="none"/>
<path d="M162 479L321.3 464" stroke="#1f8dd6" stroke-width="5.5" fill="none"/>
<path d="M482.4 481.6 L484.0 486.1 L488.7 486.2 L484.9 489.0 L486.3 493.5 L482.4 490.8 L478.5 493.5 L479.9 489.0 L476.1 486.2 L480.8 486.1Z" fill="#8a8a8a"/>
<path d="M74.8 458.7 L76.6 456.6 L78.4 452.7 L80.8 461.0 L82.2 468.1 L83.7 473.0 L85.6 457.5 L87.2 453.8 L88.8 449.5 L90.4 446.7 L92.9 451.5 L94.3 443.0 L95.7 435.8 L97.3 435.5 L98.9 437.0 L101.3 446.7 L103.2 444.5 L105.0 443.0 L106.6 442.9 L108.1 444.1 L109.7 445.5 L111.5 435.3 L113.3 426.2 L114.8 423.4 L116.4 420.2 L118.6 411.8 L120.2 422.3 L121.7 431.0 L123.6 428.6 L125.0 435.1 L126.5 440.6 L128.2 451.9 L130.0 463.5 L131.8 465.1 L133.7 467.0 L136.0 476.7 L137.8 476.2 L139.7 475.5 L142.0 469.5 L143.8 475.2 L145.7 481.5 L147.3 484.3 L148.9 486.9 L150.5 491.0 L152.4 467.0 L153.8 465.3 L155.1 465.7 L156.5 463.5 L158.9 467.0 L160.4 467.7 L162.0 470.0 L163.3 468.2 L164.7 466.8 L166.0 464.7 L168.5 446.7 L170.1 446.7 L171.7 444.4 L173.3 444.2 L175.2 440.1 L177.0 437.0 L178.8 433.9 L180.5 432.0 L182.2 428.3 L184.0 425.0 L185.5 427.4 L187.0 430.0 L188.5 433.7 L190.0 435.4 L191.5 440.2 L193.0 443.5 L194.3 450.4 L195.7 455.6 L198.0 441.5 L200.0 451.6 L201.5 443.9 L203.0 438.4 L204.5 441.4 L206.0 446.5 L207.5 441.4 L209.0 435.4 L210.3 437.3 L211.7 437.3 L213.0 438.4 L214.7 436.6 L216.3 434.4 L217.6 439.0 L219.0 445.6 L220.3 451.6 L221.8 449.5 L223.3 445.5 L224.9 431.1 L226.4 415.2 L227.9 419.0 L229.4 421.3 L231.4 442.5 L232.8 442.5 L234.1 439.9 L235.5 439.4 L238.0 421.3 L240.5 425.3 L243.0 416.2 L244.5 433.5 L246.0 452.6 L248.6 440.5 L250.6 449.5 L252.1 452.8 L253.6 457.6 L255.7 441.5 L257.0 437.5 L258.4 433.8 L259.7 429.3 L261.2 435.9 L262.7 440.5 L264.4 443.7 L266.1 446.2 L267.8 448.5 L269.3 447.6 L270.8 445.5 L272.1 448.8 L273.5 452.3 L274.8 455.6 L276.4 451.0 L277.9 448.5 L279.4 457.7 L281.0 465.7 L282.5 470.2 L284.0 475.8 L285.5 476.2 L287.0 474.8 L288.5 481.2 L290.0 487.0 L292.0 463.7 L294.0 466.7 L295.5 473.9 L297.0 481.9 L298.5 463.4 L300.0 446.5 L301.5 448.0 L303.0 450.6 L304.5 454.9 L306.0 458.6 L307.5 451.0 L309.0 442.5 L310.5 445.1 L312.0 449.5 L313.3 449.6 L314.7 451.6 L316.0 452.6 L317.3 454.1 L318.6 455.1 L320.0 456.0 L321.3 458.0 L322.7 455.8 L324.0 452.0 L325.4 450.6 L326.7 445.4 L328.1 441.0 L329.4 436.4 L330.7 439.8 L332.1 441.5 L333.4 443.5 L334.9 442.1 L336.4 438.9 L338.0 436.1 L339.5 434.4 L341.2 438.4 L343.0 443.5 L344.5 447.0 L346.0 448.5 L347.5 446.5 L349.0 443.5 L351.0 433.4 L352.3 433.0 L353.7 432.3 L355.0 433.4 L356.5 443.5 L358.0 453.6 L360.0 455.6 L362.0 447.5 L363.5 449.9 L365.0 451.6 L367.0 463.7 L368.5 457.0 L370.0 450.6 L372.0 453.6 L373.5 458.6 L375.0 464.7 L376.5 457.5 L378.0 449.5 L380.0 453.6 L381.5 452.0 L383.0 448.5 L384.3 449.3 L385.7 450.2 L387.0 452.6 L388.8 455.2 L390.5 458.6 L393.0 449.5 L394.3 450.4 L395.6 451.6 L397.1 448.0 L398.6 443.5 L401.0 439.4 L402.3 450.9 L403.6 463.7 L405.7 467.7 L407.7 477.8 L409.7 468.7 L411.2 470.9 L412.7 471.8 L414.2 477.4 L415.8 481.9 L417.3 485.1 L418.8 488.3 L420.8 475.8 L423.2 452.6 L424.5 456.5 L425.9 461.7 L427.3 462.4 L428.6 460.6 L430.0 460.7 L431.3 459.0 L432.7 455.4 L434.0 453.6 L435.3 456.7 L436.7 461.6 L438.0 464.7 L439.5 454.6 L441.0 445.5 L442.3 445.5 L443.7 443.5 L445.0 442.5 L446.5 436.8 L448.0 432.4 L449.5 433.8 L451.0 436.4 L452.5 429.2 L454.0 422.3 L456.0 424.3 L457.0 436.4 L458.3 442.8 L459.7 449.5 L461.0 454.6 L462.3 462.6 L463.7 471.9 L465.0 480.9 L466.4 470.2 L467.7 460.7 L470.0 471.8 L472.0 466.7 L473.5 473.8 L475.0 478.8 L476.4 475.0 L477.8 472.8 L479.4 478.4 L481.0 486.0 L482.7 470.8 L484.4 457.6 L486.5 449.5 L487.8 451.0 L489.2 453.8 L490.5 454.6 L492.0 453.6 L493.6 440.5 L495.3 437.3 L497.0 432.4 L498.5 429.4 L500.0 425.3 L502.0 428.3 L504.0 440.5 L505.5 437.0 L507.0 431.4 L508.5 433.3 L510.0 433.4 L511.5 430.0 L513.0 427.3 L514.5 424.1 L516.0 422.3 L517.5 424.8 L519.0 425.3 L520.5 418.2 L522.0 410.0 L524.0 415.2 L526.0 433.4 L527.7 427.8 L529.4 424.3 L531.4 428.3 L532.9 427.2 L534.4 425.3 L535.8 425.4 L537.1 425.7 L538.5 426.3 L540.5 431.4 L543.0 431.4 L544.3 433.8 L545.6 437.0 L547.1 430.4 L548.6 425.3 L550.6 416.2 L553.0 415.2 L554.4 421.2 L555.7 429.3 L557.2 423.3 L558.7 418.2 L560.7 415.2 L562.7 427.3 L564.1 423.6 L565.4 421.6 L566.8 417.2 L568.1 414.4 L569.5 414.2 L570.8 411.2 L572.8 425.3 L574.8 445.5 L576.9 465.7 L579.0 448.5 L580.5 446.9 L582.0 446.5 L584.0 458.6 L586.0 439.4 L587.5 437.6 L589.0 436.4 L590.5 439.2 L592.0 440.5 L594.0 446.5 L595.3 444.5 L596.7 441.0 L598.0 438.4 L599.4 441.0 L600.7 445.5 L603.0 428.3 L604.9 424.2 L606.8 420.3 L609.0 430.4 L610.5 428.1 L612.0 426.3 L613.5 421.2 L615.0 414.2 L616.4 410.0 L617.9 406.8 L619.3 403.5 L620.8 406.1 L622.3 407.0 L623.8 412.1 L625.4 419.2 L627.4 422.3 L629.4 418.2 L630.9 431.2 L632.4 444.5 L634.4 433.4 L636.5 448.5 L639.0 454.6 L640.5 448.2 L642.0 440.5 L644.0 442.5 L646.5 432.4 L649.0 440.5 L650.5 448.6 L652.0 455.6 L654.0 462.7 L655.5 451.1 L657.0 441.5 L658.5 435.9 L660.0 432.4 L661.8 438.4 L663.5 428.9 L665.3 421.3 L666.6 426.8 L667.9 430.4 L670.3 437.4 L672.3 428.3 L674.0 428.8 L675.7 430.9 L677.4 431.4 L678.9 438.8 L680.4 444.5 L681.9 435.5 L683.4 427.3 L685.5 423.3 L687.0 431.4 L689.0 403.5 L690.5 404.0 L692.0 427.3 L694.0 414.2 L695.8 422.8 L697.6 432.4 L699.1 439.0 L700.6 443.5 L701.9 443.4 L703.3 442.3 L704.6 442.5 L706.7 432.4 L708.2 436.9 L709.7 440.5 L711.2 440.6 L712.7 441.5 L714.2 435.5 L715.8 430.4 L717.3 431.3 L718.8 434.4 L720.1 429.9 L721.5 425.2 L722.8 419.2 L724.3 419.2 L725.8 419.5 L727.3 418.2 L728.6 423.8 L730.0 431.4 L732.5 444.5 L735.0 435.4 L737.4 433.4 L738.7 429.8 L740.0 427.3 L741.5 428.8 L743.0 430.4 L744.5 444.5 L746.0 456.6 L747.5 453.5 L749.0 448.5 L750.5 438.2 L752.0 428.3 L753.4 424.8 L754.7 422.3 L756.8 411.2 L758.8 421.3 L760.8 420.3 L762.8 430.4" fill="none" stroke="#ffc79a" stroke-opacity="0.8" stroke-width="6" stroke-linejoin="round" stroke-linecap="round"/>
<path d="M74.8 458.7 L76.6 456.6 L78.4 452.7 L80.8 461.0 L82.2 468.1 L83.7 473.0 L85.6 457.5 L87.2 453.8 L88.8 449.5 L90.4 446.7 L92.9 451.5 L94.3 443.0 L95.7 435.8 L97.3 435.5 L98.9 437.0 L101.3 446.7 L103.2 444.5 L105.0 443.0 L106.6 442.9 L108.1 444.1 L109.7 445.5 L111.5 435.3 L113.3 426.2 L114.8 423.4 L116.4 420.2 L118.6 411.8 L120.2 422.3 L121.7 431.0 L123.6 428.6 L125.0 435.1 L126.5 440.6 L128.2 451.9 L130.0 463.5 L131.8 465.1 L133.7 467.0 L136.0 476.7 L137.8 476.2 L139.7 475.5 L142.0 469.5 L143.8 475.2 L145.7 481.5 L147.3 484.3 L148.9 486.9 L150.5 491.0 L152.4 467.0 L153.8 465.3 L155.1 465.7 L156.5 463.5 L158.9 467.0 L160.4 467.7 L162.0 470.0 L163.3 468.2 L164.7 466.8 L166.0 464.7 L168.5 446.7 L170.1 446.7 L171.7 444.4 L173.3 444.2 L175.2 440.1 L177.0 437.0 L178.8 433.9 L180.5 432.0 L182.2 428.3 L184.0 425.0 L185.5 427.4 L187.0 430.0 L188.5 433.7 L190.0 435.4 L191.5 440.2 L193.0 443.5 L194.3 450.4 L195.7 455.6 L198.0 441.5 L200.0 451.6 L201.5 443.9 L203.0 438.4 L204.5 441.4 L206.0 446.5 L207.5 441.4 L209.0 435.4 L210.3 437.3 L211.7 437.3 L213.0 438.4 L214.7 436.6 L216.3 434.4 L217.6 439.0 L219.0 445.6 L220.3 451.6 L221.8 449.5 L223.3 445.5 L224.9 431.1 L226.4 415.2 L227.9 419.0 L229.4 421.3 L231.4 442.5 L232.8 442.5 L234.1 439.9 L235.5 439.4 L238.0 421.3 L240.5 425.3 L243.0 416.2 L244.5 433.5 L246.0 452.6 L248.6 440.5 L250.6 449.5 L252.1 452.8 L253.6 457.6 L255.7 441.5 L257.0 437.5 L258.4 433.8 L259.7 429.3 L261.2 435.9 L262.7 440.5 L264.4 443.7 L266.1 446.2 L267.8 448.5 L269.3 447.6 L270.8 445.5 L272.1 448.8 L273.5 452.3 L274.8 455.6 L276.4 451.0 L277.9 448.5 L279.4 457.7 L281.0 465.7 L282.5 470.2 L284.0 475.8 L285.5 476.2 L287.0 474.8 L288.5 481.2 L290.0 487.0 L292.0 463.7 L294.0 466.7 L295.5 473.9 L297.0 481.9 L298.5 463.4 L300.0 446.5 L301.5 448.0 L303.0 450.6 L304.5 454.9 L306.0 458.6 L307.5 451.0 L309.0 442.5 L310.5 445.1 L312.0 449.5 L313.3 449.6 L314.7 451.6 L316.0 452.6 L317.3 454.1 L318.6 455.1 L320.0 456.0 L321.3 458.0 L322.7 455.8 L324.0 452.0 L325.4 450.6 L326.7 445.4 L328.1 441.0 L329.4 436.4 L330.7 439.8 L332.1 441.5 L333.4 443.5 L334.9 442.1 L336.4 438.9 L338.0 436.1 L339.5 434.4 L341.2 438.4 L343.0 443.5 L344.5 447.0 L346.0 448.5 L347.5 446.5 L349.0 443.5 L351.0 433.4 L352.3 433.0 L353.7 432.3 L355.0 433.4 L356.5 443.5 L358.0 453.6 L360.0 455.6 L362.0 447.5 L363.5 449.9 L365.0 451.6 L367.0 463.7 L368.5 457.0 L370.0 450.6 L372.0 453.6 L373.5 458.6 L375.0 464.7 L376.5 457.5 L378.0 449.5 L380.0 453.6 L381.5 452.0 L383.0 448.5 L384.3 449.3 L385.7 450.2 L387.0 452.6 L388.8 455.2 L390.5 458.6 L393.0 449.5 L394.3 450.4 L395.6 451.6 L397.1 448.0 L398.6 443.5 L401.0 439.4 L402.3 450.9 L403.6 463.7 L405.7 467.7 L407.7 477.8 L409.7 468.7 L411.2 470.9 L412.7 471.8 L414.2 477.4 L415.8 481.9 L417.3 485.1 L418.8 488.3 L420.8 475.8 L423.2 452.6 L424.5 456.5 L425.9 461.7 L427.3 462.4 L428.6 460.6 L430.0 460.7 L431.3 459.0 L432.7 455.4 L434.0 453.6 L435.3 456.7 L436.7 461.6 L438.0 464.7 L439.5 454.6 L441.0 445.5 L442.3 445.5 L443.7 443.5 L445.0 442.5 L446.5 436.8 L448.0 432.4 L449.5 433.8 L451.0 436.4 L452.5 429.2 L454.0 422.3 L456.0 424.3 L457.0 436.4 L458.3 442.8 L459.7 449.5 L461.0 454.6 L462.3 462.6 L463.7 471.9 L465.0 480.9 L466.4 470.2 L467.7 460.7 L470.0 471.8 L472.0 466.7 L473.5 473.8 L475.0 478.8 L476.4 475.0 L477.8 472.8 L479.4 478.4 L481.0 486.0 L482.7 470.8 L484.4 457.6 L486.5 449.5 L487.8 451.0 L489.2 453.8 L490.5 454.6 L492.0 453.6 L493.6 440.5 L495.3 437.3 L497.0 432.4 L498.5 429.4 L500.0 425.3 L502.0 428.3 L504.0 440.5 L505.5 437.0 L507.0 431.4 L508.5 433.3 L510.0 433.4 L511.5 430.0 L513.0 427.3 L514.5 424.1 L516.0 422.3 L517.5 424.8 L519.0 425.3 L520.5 418.2 L522.0 410.0 L524.0 415.2 L526.0 433.4 L527.7 427.8 L529.4 424.3 L531.4 428.3 L532.9 427.2 L534.4 425.3 L535.8 425.4 L537.1 425.7 L538.5 426.3 L540.5 431.4 L543.0 431.4 L544.3 433.8 L545.6 437.0 L547.1 430.4 L548.6 425.3 L550.6 416.2 L553.0 415.2 L554.4 421.2 L555.7 429.3 L557.2 423.3 L558.7 418.2 L560.7 415.2 L562.7 427.3 L564.1 423.6 L565.4 421.6 L566.8 417.2 L568.1 414.4 L569.5 414.2 L570.8 411.2 L572.8 425.3 L574.8 445.5 L576.9 465.7 L579.0 448.5 L580.5 446.9 L582.0 446.5 L584.0 458.6 L586.0 439.4 L587.5 437.6 L589.0 436.4 L590.5 439.2 L592.0 440.5 L594.0 446.5 L595.3 444.5 L596.7 441.0 L598.0 438.4 L599.4 441.0 L600.7 445.5 L603.0 428.3 L604.9 424.2 L606.8 420.3 L609.0 430.4 L610.5 428.1 L612.0 426.3 L613.5 421.2 L615.0 414.2 L616.4 410.0 L617.9 406.8 L619.3 403.5 L620.8 406.1 L622.3 407.0 L623.8 412.1 L625.4 419.2 L627.4 422.3 L629.4 418.2 L630.9 431.2 L632.4 444.5 L634.4 433.4 L636.5 448.5 L639.0 454.6 L640.5 448.2 L642.0 440.5 L644.0 442.5 L646.5 432.4 L649.0 440.5 L650.5 448.6 L652.0 455.6 L654.0 462.7 L655.5 451.1 L657.0 441.5 L658.5 435.9 L660.0 432.4 L661.8 438.4 L663.5 428.9 L665.3 421.3 L666.6 426.8 L667.9 430.4 L670.3 437.4 L672.3 428.3 L674.0 428.8 L675.7 430.9 L677.4 431.4 L678.9 438.8 L680.4 444.5 L681.9 435.5 L683.4 427.3 L685.5 423.3 L687.0 431.4 L689.0 403.5 L690.5 404.0 L692.0 427.3 L694.0 414.2 L695.8 422.8 L697.6 432.4 L699.1 439.0 L700.6 443.5 L701.9 443.4 L703.3 442.3 L704.6 442.5 L706.7 432.4 L708.2 436.9 L709.7 440.5 L711.2 440.6 L712.7 441.5 L714.2 435.5 L715.8 430.4 L717.3 431.3 L718.8 434.4 L720.1 429.9 L721.5 425.2 L722.8 419.2 L724.3 419.2 L725.8 419.5 L727.3 418.2 L728.6 423.8 L730.0 431.4 L732.5 444.5 L735.0 435.4 L737.4 433.4 L738.7 429.8 L740.0 427.3 L741.5 428.8 L743.0 430.4 L744.5 444.5 L746.0 456.6 L747.5 453.5 L749.0 448.5 L750.5 438.2 L752.0 428.3 L753.4 424.8 L754.7 422.3 L756.8 411.2 L758.8 421.3 L760.8 420.3 L762.8 430.4" fill="none" stroke="#000" stroke-width="3" stroke-linejoin="round" stroke-linecap="round"/>
<path d="M762.8 430.4L771.3 425.3" stroke="#000" stroke-width="1.3" fill="none"/>
<path d="M771.3 425.3L783.8 413.6" stroke="#000" stroke-width="1.3" stroke-dasharray="6 2 1.5 2" fill="none"/>
<g stroke="#c9c9c9" stroke-width="1.1" fill="none">
<rect x="40.5" y="7.5" width="781.0" height="291.7"/>
<rect x="40.5" y="301.4" width="781.0" height="97.0"/>
<rect x="40.5" y="400.5" width="781.0" height="96.8"/>
</g>
<path d="M171.6 290.6H318Q321 290.6 321 293.6V362" stroke="#000" stroke-width="2.4" fill="none"/>
<circle cx="162.5" cy="389.5" r="11.8" fill="#2389d7" stroke="#2a1486" stroke-width="1.7"/>
<text x="162.5" y="395.2" font-size="16" text-anchor="middle" fill="#fff" style="fill:#fff">1</text>
<circle cx="321.4" cy="368.6" r="11.8" fill="#2389d7" stroke="#2a1486" stroke-width="1.7"/>
<text x="321.4" y="374.3" font-size="16" text-anchor="middle" fill="#fff" style="fill:#fff">3</text>
<circle cx="162.0" cy="479.0" r="11.8" fill="#2389d7" stroke="#2a1486" stroke-width="1.7"/>
<text x="162.0" y="484.7" font-size="16" text-anchor="middle" fill="#fff" style="fill:#fff">1</text>
<circle cx="321.3" cy="464.0" r="11.8" fill="#2389d7" stroke="#2a1486" stroke-width="1.7"/>
<text x="321.3" y="469.7" font-size="16" text-anchor="middle" fill="#fff" style="fill:#fff">3</text>
<circle cx="321" cy="362" r="3" fill="#000"/>
<g>
<rect x="85.6" y="242.4" width="86" height="95" fill="#fff" stroke="#cdcdcd" stroke-width="1.1"/>
<g fill="none" stroke="#e2dfdb" stroke-width="1">
<circle cx="119" cy="291" r="21.5"/><circle cx="119" cy="291" r="19.5"/>
<path d="M101 304A14 14 0 0 1 112 279"/><path d="M103 305A12 12 0 0 1 113 281"/>
<path d="M98 330Q118 331 129.5 318.6"/><path d="M120 249Q131 262 132 286"/>
</g>
<path d="M91.3 249.8C97 254.5 103 264 110 274.2S124 288.4 134.2 290.4" fill="none" stroke="#6b8e23" stroke-width="3.6"/>
<path d="M91.3 249.8C97 254.5 103 264 110 274.2S124 288.4 134.2 290.4" fill="none" stroke="#fff" stroke-width="1.7" stroke-dasharray="2 0.9"/>
<path d="M91.3 331C97 326.3 103 316.8 110 306.6S124 292.4 134.2 290.4" fill="none" stroke="#7a2e16" stroke-width="3.6"/>
<path d="M91.3 331C97 326.3 103 316.8 110 306.6S124 292.4 134.2 290.4" fill="none" stroke="#fff" stroke-width="1.7" stroke-dasharray="2 0.9"/>
<path d="M135 247.8V290.4" stroke="#6b8e23" stroke-width="0.9"/><path d="M131.8 255V289" stroke="#6b8e23" stroke-width="0.7"/>
<path d="M135.4 290.4V333" stroke="#7a2e16" stroke-width="0.9"/><path d="M131.8 292.5V313" stroke="#7a2e16" stroke-width="0.7"/>
<g stroke="#6b8e23" stroke-width="4.2" stroke-linecap="round" fill="none">
<path d="M104.4 255L111.6 262.8"/><path d="M114.6 266.4L121.8 274.4"/><path d="M125 278.6L128.8 282.6"/>
</g>
<path d="M103.4 258.8L127.8 285" stroke="#27314f" stroke-width="1.1" stroke-dasharray="3.2 2" fill="none"/>
<path d="M106.6 252.4L130.4 278.2" stroke="#2a3320" stroke-width="1" stroke-dasharray="0.9 3.6" fill="none"/>
<path d="M106.4 328.4L130.8 296.4" stroke="#3a8fd9" stroke-width="1.4" stroke-dasharray="1.4 2.6" fill="none"/>
<g stroke="#f05a1a" stroke-width="4" stroke-linecap="round" fill="none">
<path d="M128.6 296.6L125.8 301.2"/><path d="M121.4 305.6L117 313"/><path d="M112 318.2L106.2 326.2"/>
</g>
<g fill="none" stroke="#6b8e23" stroke-width="0.9" stroke-dasharray="1 1.4">
<path d="M134.2 290.4C146 289 155 276 162.6 250"/>
<path d="M136.2 290.0C147 288 154 272 157.4 251"/>
</g>
<path d="M134.2 290.4C140 290 143 288.4 146 285.6" stroke="#6b8e23" stroke-width="0.9" fill="none"/>
<path d="M134 290.4H140" stroke="#caa84a" stroke-width="0.8"/>
<g fill="none" stroke="#7a2e16" stroke-width="0.9" stroke-dasharray="1 1.4">
<path d="M142.5 292.5C150 297.5 157 309 163.2 329.5"/>
<path d="M139 292.4C148 298 155.6 312 159.9 329.5"/>
</g>
<path d="M134.2 290.4C138 290.6 141 291.4 144.6 294" stroke="#7a2e16" stroke-width="0.9" fill="none"/>
<text x="77.4" y="317.3" font-size="9" textLength="71.2" lengthAdjust="spacingAndGlyphs" fill="#444" fill-opacity="0.95" style="fill:#444">MACD-T(2,26,9)</text>
</g>
<g>
<path d="M125.2 48.8L128.2 39.6Q128.8 38 130.6 38L143.4 38Q145 38 145.9 39.4L151.8 48.8Z" fill="#20364f"/>
<path d="M127.4 47.6L129.6 40.8Q129.8 40.2 130.6 40.2H133V47.6Z" fill="#2f9be6"/>
<path d="M134.8 40.2H142.8Q143.6 40.2 144 40.9L147.4 47.6H134.8Z" fill="#3ba6ef"/>
<path d="M134.8 40.2H142.8Q143.6 40.2 144 40.9L145 42.8H134.8Z" fill="#2789d6"/>
<path d="M123.2 50.6Q123.2 48.7 125.2 48.6L149.5 48.4Q153.6 48.6 156.6 50.2Q158.8 51.4 158.9 53.8L158.8 61Q158.8 62.4 157.2 62.4H124.6Q123 62.4 123 60.8Z" fill="#1f93e4"/>
<path d="M123.2 50.6Q123.2 48.7 125.2 48.6L149.5 48.4Q153.6 48.6 156.6 50.2L156.9 51.4L123.2 52.2Z" fill="#4bb2f3"/>
<path d="M123 58.5H158.8V61Q158.8 62.4 157.2 62.4H124.6Q123 62.4 123 60.8Z" fill="#1779c8"/>
<ellipse cx="147" cy="48.4" rx="1.5" ry="1.1" fill="#2d9be6"/>
<ellipse cx="157.2" cy="52.8" rx="1.2" ry="1.5" fill="#eef7ff"/>
<rect x="133.8" y="60.8" width="15.6" height="2.8" fill="#4a4f57"/>
<rect x="123" y="61" width="2.6" height="1.8" fill="#8a2a2a"/><rect x="156.4" y="60.8" width="2.4" height="1.8" fill="#8a2a2a"/>
<path d="M125.2 62.6A5.6 5.8 0 0 1 136.4 62.6Z" fill="#d6dde6"/>
<circle cx="130.8" cy="63.4" r="4.5" fill="#26272b"/><circle cx="130.8" cy="63.4" r="2.2" fill="#8b9096"/><circle cx="130.8" cy="63.4" r="1" fill="#44484e"/>
<path d="M146.8 62.6A5.6 5.8 0 0 1 158.0 62.6Z" fill="#d6dde6"/>
<circle cx="152.4" cy="63.4" r="4.5" fill="#26272b"/><circle cx="152.4" cy="63.4" r="2.2" fill="#8b9096"/><circle cx="152.4" cy="63.4" r="1" fill="#44484e"/>
</g>
<g>
<circle cx="273.6" cy="98.6" r="3.7" fill="#2b2b2e"/><circle cx="273.6" cy="98.8" r="1.5" fill="#7f8994"/>
<circle cx="295" cy="98" r="4.3" fill="#26262a"/><circle cx="295" cy="98" r="2.4" fill="#9fb6d0"/><circle cx="295" cy="98" r="1" fill="#e8eef5"/>
<path d="M265.6 80.4Q267 84 267.9 89.4" stroke="#3a3026" stroke-width="1.1" fill="none"/>
<path d="M266.6 93.2Q266.2 88 270.6 86.6L282 86.8Q283.6 91.6 282.2 97L278.6 98.8Q277.4 95.8 273.6 95.9Q270.4 96 269.2 98.4Q266.8 97 266.6 93.2Z" fill="#f2a12a"/>
<path d="M267.4 90Q271 87.6 280.6 88.6L281.8 91Q273.6 90.2 267.2 92.6Z" fill="#fac65c"/>
<path d="M272.4 86.8Q272.6 84.2 275.4 84L282 84.2Q283.4 86.2 282.6 88.6L273.4 88.4Z" fill="#8e3f14"/>
<path d="M278.2 96.6L289.4 95.6L290 99.2L279.2 99.9Z" fill="#c46f1e"/>
<path d="M287 77.6Q289.6 76.6 290.8 79.2L295.4 89.4Q299.4 90.2 300.2 94.6L297.4 93.4Q293.6 92.6 291 97.2L286.6 97.6Q289.4 91.4 288.4 85.6Z" fill="#f2a12a"/>
<path d="M286.9 79.4L289.9 91.8L287.2 96Q288.6 89 286.6 82.6Z" fill="#31494a"/>
<path d="M283 75.6L288.6 74.6L288.9 76.4L283.2 77Z" fill="#2e241e"/>
<ellipse cx="289" cy="74.6" rx="2.5" ry="2.4" fill="#efb04a"/>
<path d="M285.2 70.6L286.6 73.2" stroke="#c88a2a" stroke-width="0.9"/>
<ellipse cx="285" cy="70.4" rx="1.1" ry="0.8" fill="#e0a030"/>
</g>
<g>
<path d="M395.2 134.6L398 133.9L416.4 140L409.4 147.2L405.6 143.4L404.8 144.2L401.2 140.2L400.4 141Z" fill="#2b8fd8"/>
<path d="M422 146L415.2 152.4L424.2 161.2L426.6 166.2L427.6 163.4Z" fill="#2b8fd8"/>
<path d="M422 146L419 149L426.8 164.6L427.6 163.4Z" fill="#1b6fb5"/>
<path d="M395.2 153.9L398 153.3L404.6 155.7L403.2 158.2Z" fill="#2b8fd8"/>
<path d="M404.8 158.6L408 159L408.3 165.6L406.5 166.2Z" fill="#2b8fd8"/>
<path d="M403.9 132.4L405.2 134.6" stroke="#a9a18f" stroke-width="1.4"/><path d="M409.6 133.8L410.9 136" stroke="#a9a18f" stroke-width="1.4"/>
<path d="M425.6 152.4L428 151.2" stroke="#9aa78f" stroke-width="1.4"/><path d="M426.8 157.8L429 156.4" stroke="#9aa3ad" stroke-width="1.4"/>
<path d="M402.4 159.6Q402.6 156.6 405.4 153.4L421.4 135.2Q424.6 131.8 428.4 132.4Q430.8 133.2 430.2 136Q429.6 139 426.6 141.8L409 158Q405.4 160.6 402.4 159.6Z" fill="#d3d7dc"/>
<path d="M403.6 158.6Q404.6 156.4 406.6 154.2L422.6 136.8Q425.8 133.6 429 133.4Q425.4 132.6 422 136L405.6 154.2Q403.8 156.4 403.6 158.6Z" fill="#fff"/>
<path d="M409 158L426.6 141.8Q428.8 139.8 429.8 137.6Q429 141.2 426 143.8L410.4 157.8Q406.8 160.6 403.4 159.8Q406.2 159.8 409 158Z" fill="#a3a9b1"/>
<path d="M424.4 133.4Q426.4 132.2 428.6 132.5Q430.2 133 430.3 134.6" stroke="#4e545c" stroke-width="0.9" fill="none"/>
<path d="M396.6 164.6L404.4 158" stroke="#70777f" stroke-width="0.6"/>
<path d="M402.6 159.4L405.4 156.4" stroke="#3c4148" stroke-width="1.4"/>
</g>
</svg></body></html>
